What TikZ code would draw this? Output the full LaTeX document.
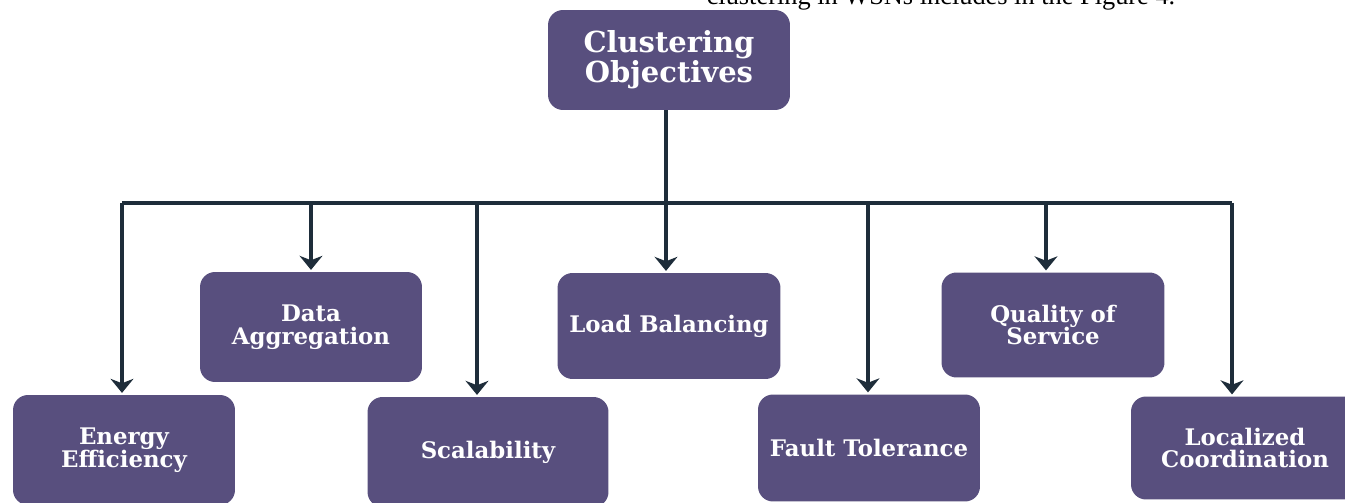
\documentclass[tikz,border=0pt]{standalone}
\usepackage{fontspec}
\setmainfont{Liberation Serif}
\newfontfamily\boxfont{DejaVu Serif}
\usetikzlibrary{arrows.meta}
\definecolor{objpurple}{RGB}{88,79,126}
\definecolor{linkdark}{RGB}{30,45,58}

\begin{document}
\begin{tikzpicture}[x=0.02cm,y=-0.02cm,
        obj/.style={rectangle,rounded corners=0.3cm,fill=objpurple,text=white,align=center,inner sep=0pt,
            font=\boxfont\bfseries\fontsize{13}{12.8}\selectfont},
        link/.style={draw=linkdark,line width=2pt},
        linkarrow/.style={link,-{Stealth[length=8pt,width=13pt,inset=2.5pt]},shorten >=1pt}]
            \useasboundingbox (0,0) rectangle (1345,503);
            \begin{scope}
                \clip (0,0) rectangle (1345,503);
                \node (caption) at (941,5) [anchor=base,font=\fontsize{15}{17}\selectfont,inner sep=0pt] {clustering in WSNs includes in the Figure 4.};

                \node (clus) at (669,60) [obj,minimum width=4.84cm,minimum height=2cm,font=\boxfont\bfseries\fontsize{16.5}{12.8}\selectfont] {Clustering\\Objectives};

                \node (energy) at (124,450) [obj,minimum width=4.44cm,minimum height=2.2cm] {Energy\\Efficiency};
                \node (data) at (311,327) [obj,minimum width=4.44cm,minimum height=2.2cm] {Data\\Aggregation};
                \node (scal) at (488,452) [obj,minimum width=4.82cm,minimum height=2.2cm] {Scalability};
                \node (load) at (669,326) [obj,minimum width=4.46cm,minimum height=2.12cm] {Load Balancing};
                \node (fault) at (869,448) [obj,minimum width=4.44cm,minimum height=2.14cm] {Fault Tolerance};
                \node (qos) at (1053,325) [obj,minimum width=4.46cm,minimum height=2.1cm] {Quality of\\Service};
                \node (loc) at (1245,448) [obj,minimum width=4.56cm,minimum height=2.06cm] {Localized\\Coordination};

                \coordinate (b1) at (122,203);
                \coordinate (b2) at (311,203);
                \coordinate (b3) at (477,203);
                \coordinate (b4) at (666,203);
                \coordinate (b5) at (868,203);
                \coordinate (b6) at (1046,203);
                \coordinate (b7) at (1232,203);

                \draw[link] (b1) -- (b7)  (clus.south -| b4) -- (b4);
                \draw[linkarrow] (b1) -- (energy.north -| b1);
                \draw[linkarrow] (b2) -- (data.north -| b2);
                \draw[linkarrow] (b3) -- (scal.north -| b3);
                \draw[linkarrow] (b4) -- (load.north -| b4);
                \draw[linkarrow] (b5) -- (fault.north -| b5);
                \draw[linkarrow] (b6) -- (qos.north -| b6);
                \draw[linkarrow] (b7) -- (loc.north -| b7);
            \end{scope}
        \end{tikzpicture}
\end{document}
